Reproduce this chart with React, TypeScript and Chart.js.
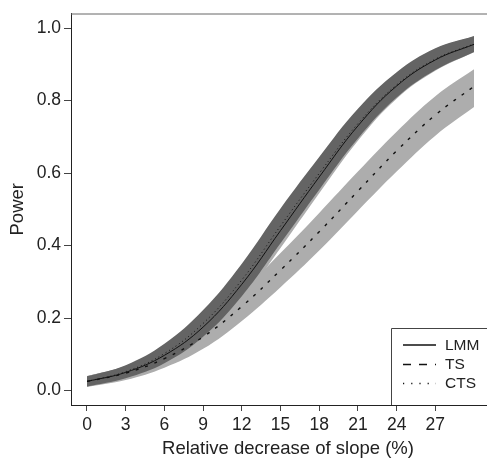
import React, { useEffect, useRef } from "react";
import { Chart, registerables } from "chart.js";

Chart.register(...registerables);

// ---- data ----
const xValues = [0, 3, 6, 9, 12, 15, 18, 21, 24, 27, 30];

const lmm = [0.025, 0.05, 0.097, 0.175, 0.293, 0.441, 0.589, 0.73, 0.84, 0.912, 0.955];
const lmmLow = [0.011, 0.032, 0.07, 0.138, 0.248, 0.393, 0.544, 0.689, 0.805, 0.882, 0.933];
const lmmHigh = [0.039, 0.068, 0.124, 0.212, 0.338, 0.489, 0.634, 0.771, 0.875, 0.942, 0.977];

const ts = [0.025, 0.048, 0.088, 0.148, 0.232, 0.332, 0.438, 0.55, 0.661, 0.76, 0.839];
const tsLow = [0.01, 0.029, 0.063, 0.115, 0.192, 0.285, 0.386, 0.496, 0.604, 0.703, 0.782];
const tsHigh = [0.04, 0.067, 0.113, 0.181, 0.272, 0.379, 0.49, 0.604, 0.714, 0.812, 0.886];

const cts = [0.025, 0.052, 0.102, 0.185, 0.305, 0.454, 0.599, 0.736, 0.843, 0.914, 0.956];
const ctsLow = [0.011, 0.034, 0.075, 0.148, 0.26, 0.406, 0.554, 0.695, 0.808, 0.884, 0.934];
const ctsHigh = [0.039, 0.07, 0.129, 0.222, 0.35, 0.502, 0.644, 0.777, 0.878, 0.944, 0.978];

const xTicks = [0, 3, 6, 9, 12, 15, 18, 21, 24, 27];
const yTicks = [0, 0.2, 0.4, 0.6, 0.8, 1.0];
const legendLabels = ["LMM", "TS", "CTS"];
const xTitle = "Relative decrease of slope (%)";
const yTitle = "Power";

const FONT = "'Liberation Sans', Arial, sans-serif";
const DARK = "#646464";
const LIGHT = "#adadad";

const pts = (ys: number[]) => xValues.map((x, i) => ({ x, y: ys[i] }));

const legendPlugin = {
  id: "customLegendFrame",
  afterDraw(chart: any) {
    const { ctx, chartArea } = chart;
    ctx.save();
    // top and right frame
    ctx.strokeStyle = "#666";
    ctx.lineWidth = 1;
    ctx.beginPath();
    ctx.moveTo(chartArea.left, chartArea.top + 0.5);
    ctx.lineTo(chartArea.right, chartArea.top + 0.5);
    ctx.lineTo(chartArea.right, chartArea.bottom);
    ctx.stroke();

    // legend box
    const bx = 391.5;
    const by = 328.5;
    ctx.strokeStyle = "#444";
    ctx.beginPath();
    ctx.moveTo(bx, chartArea.bottom);
    ctx.lineTo(bx, by);
    ctx.lineTo(chartArea.right, by);
    ctx.stroke();
    ctx.fillStyle = "#fff";
    ctx.fillRect(bx + 0.5, by + 0.5, chartArea.right - bx - 1, chartArea.bottom - by - 1);

    const rows = [345, 364.5, 383.5];
    const dashes = [[], [8, 8], [1.2, 7]];
    ctx.strokeStyle = "#111";
    ctx.lineWidth = 1.3;
    rows.forEach((y, i) => {
      ctx.setLineDash(dashes[i]);
      ctx.beginPath();
      ctx.moveTo(403, y);
      ctx.lineTo(436, y);
      ctx.stroke();
    });
    ctx.setLineDash([]);
    ctx.fillStyle = "#222";
    ctx.font = `15.5px ${FONT}`;
    ctx.textBaseline = "middle";
    ctx.textAlign = "left";
    legendLabels.forEach((t, i) => ctx.fillText(t, 445, rows[i] + 0.5));
    ctx.restore();
  },
};

export default function App() {
  const ref = useRef<HTMLCanvasElement>(null);

  useEffect(() => {
    if (!ref.current) return;
    const band = (data: number[], color: string | undefined, order: number, fill: any) => ({
      data: pts(data),
      borderWidth: 0,
      pointRadius: 0,
      backgroundColor: color ?? "rgba(0,0,0,0)",
      borderColor: "rgba(0,0,0,0)",
      fill,
      order,
      tension: 0.4,
    });
    const line = (data: number[], dash: number[], width: number, order: number) => ({
      data: pts(data),
      borderWidth: width,
      borderDash: dash,
      borderColor: "#111",
      pointRadius: 0,
      fill: false,
      order,
      tension: 0.4,
    });

    const chart = new Chart(ref.current, {
      type: "line",
      data: {
        datasets: [
          band(lmmHigh, LIGHT, 20, "+1"),
          band(lmmLow, undefined, 19, false),
          band(tsHigh, LIGHT, 18, "+1"),
          band(tsLow, undefined, 17, false),
          band(ctsHigh, DARK, 16, "+1"),
          band(ctsLow, undefined, 15, false),
          line(ts, [3, 7], 1.4, 3),
          line(cts, [1, 3], 1, 2),
          line(lmm, [], 1, 1),
        ] as any,
      },
      options: {
        animation: false,
        responsive: false,
        layout: { padding: { top: 13, left: 0, right: 5, bottom: 0 } },
        plugins: { legend: { display: false }, tooltip: { enabled: false } },
        scales: {
          x: {
            type: "linear",
            min: -1.24,
            max: 32.4,
            afterBuildTicks: (s: any) => {
              s.ticks = xTicks.map((v) => ({ value: v }));
            },
            afterFit: (s: any) => {
              s.height = 58;
            },
            grid: { drawOnChartArea: false, drawTicks: true, tickLength: 6, color: "#444" },
            border: { display: true, color: "#222", width: 1 },
            ticks: {
              color: "#222",
              padding: 4,
              maxRotation: 0,
              autoSkip: false,
              font: { family: FONT, size: 17.5 },
              callback: (v: any) => String(v),
            },
            title: {
              display: true,
              text: xTitle,
              color: "#222",
              font: { family: FONT, size: 18.5 },
              padding: { top: 0, bottom: 3 },
            },
          },
          y: {
            type: "linear",
            min: -0.04,
            max: 1.04,
            afterBuildTicks: (s: any) => {
              s.ticks = yTicks.map((v) => ({ value: v }));
            },
            afterFit: (s: any) => {
              s.width = 71;
            },
            grid: { drawOnChartArea: false, drawTicks: true, tickLength: 7, color: "#444" },
            border: { display: true, color: "#222", width: 1 },
            ticks: {
              color: "#222",
              padding: 3,
              autoSkip: false,
              font: { family: FONT, size: 17.5 },
              callback: (v: any) => Number(v).toFixed(1),
            },
            title: {
              display: true,
              text: yTitle,
              color: "#222",
              font: { family: FONT, size: 18.5 },
              padding: { top: 7, bottom: 0 },
            },
          },
        },
      },
      plugins: [legendPlugin],
    });
    return () => chart.destroy();
  }, []);

  return (
    <div style={{ position: "fixed", left: 0, top: 0, width: 510, height: 463, background: "#fff" }}>
      <canvas ref={ref} width={510} height={463} style={{ width: 510, height: 463, display: "block" }} />
    </div>
  );
}
